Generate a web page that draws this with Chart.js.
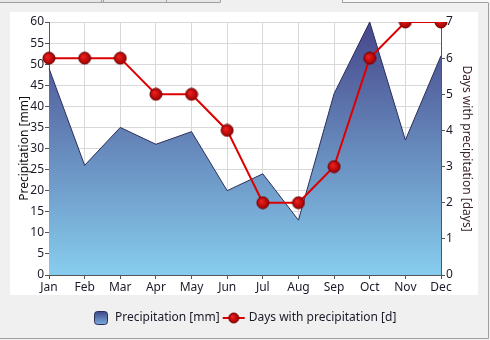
<!DOCTYPE html>
<html>
<head>
<meta charset="utf-8">
<script src="https://cdn.jsdelivr.net/npm/chart.js@4/dist/chart.umd.min.js"></script>
<style>
  html, body { margin: 0; padding: 0; background: #f0f0f0; }
  #wrap { position: relative; width: 490px; height: 340px; }
</style>
</head>
<body>
<div id="wrap"><canvas id="chart" width="490" height="340"></canvas></div>
<script>
// data
const months = ['Jan', 'Feb', 'Mar', 'Apr', 'May', 'Jun', 'Jul', 'Aug', 'Sep', 'Oct', 'Nov', 'Dec'];
const precipitation = [49, 26, 35, 31, 34, 20, 24, 13, 43, 60, 32, 52];
const rainDays = [6, 6, 6, 5, 5, 4, 2, 2, 3, 6, 7, 7];
const seriesNames = ['Precipitation [mm]', 'Days with precipitation [d]'];

const FONT = "'Noto Sans', 'Open Sans', sans-serif";
const TEXT = '#1a1a28';

// shaded red marker used for the points
function makeDot(r) {
  const c = document.createElement('canvas');
  c.width = r * 2 + 2; c.height = r * 2 + 2;
  const g = c.getContext('2d');
  const cx = r + 1;
  const grad = g.createRadialGradient(cx - r * 0.3, cx - r * 0.3, 0.5, cx, cx, r);
  grad.addColorStop(0, '#f02020');
  grad.addColorStop(1, '#a00000');
  g.beginPath();
  g.arc(cx, cx, r, 0, Math.PI * 2);
  g.fillStyle = grad;
  g.fill();
  g.lineWidth = 1;
  g.strokeStyle = '#700000';
  g.stroke();
  return c;
}

const dot = makeDot(6);

const panel = {
  id: 'panel',
  beforeDraw(chart) {
    const ctx = chart.ctx;
    ctx.save();
    ctx.fillStyle = '#f0f0f0';
    ctx.fillRect(0, 0, 490, 340);
    // tab strip at the top
    ctx.fillStyle = '#e6e6e6';
    ctx.fillRect(0, 0, 220, 2);
    ctx.fillStyle = '#f8f8f8';
    ctx.fillRect(342, 0, 148, 2);
    ctx.strokeStyle = '#a0a0a0';
    ctx.lineWidth = 1;
    ctx.beginPath();
    ctx.moveTo(0, 2.5); ctx.lineTo(220, 2.5);
    ctx.moveTo(342, 2.5); ctx.lineTo(488, 2.5);
    [101.5, 103.5, 166.5, 220.5, 342.5].forEach(x => { ctx.moveTo(x, 0); ctx.lineTo(x, 2.5); });
    ctx.moveTo(488.5, 2.5); ctx.lineTo(488.5, 338.5);
    ctx.lineTo(0, 338.5);
    ctx.stroke();
    // white plot panel
    ctx.fillStyle = '#ffffff';
    ctx.fillRect(10, 12, 468, 283);
    ctx.restore();
  },
  afterDraw(chart) {
    // legend under the panel
    const ctx = chart.ctx;
    ctx.save();
    ctx.font = '12px ' + FONT;
    ctx.textBaseline = 'middle';
    const w1 = ctx.measureText(seriesNames[0]).width;
    const w2 = ctx.measureText(seriesNames[1]).width;
    const total = 13 + 8 + w1 + 3 + 22 + 4 + w2;
    let x = Math.round(245 - total / 2);
    const y = 318;
    const grad = ctx.createLinearGradient(0, y - 6, 0, y + 7);
    grad.addColorStop(0, '#3f4a8c');
    grad.addColorStop(1, '#7fb0e0');
    ctx.beginPath();
    ctx.roundRect(x + 0.5, y - 6.5, 13, 13, 3);
    ctx.fillStyle = grad;
    ctx.fill();
    ctx.strokeStyle = '#2a2f5a';
    ctx.lineWidth = 1;
    ctx.stroke();
    x += 13 + 8;
    ctx.fillStyle = TEXT;
    ctx.fillText(seriesNames[0], x, y);
    x += w1 + 3;
    ctx.strokeStyle = '#dd0000';
    ctx.lineWidth = 2;
    ctx.beginPath();
    ctx.moveTo(x, y); ctx.lineTo(x + 22, y);
    ctx.stroke();
    ctx.drawImage(makeDot(5), x + 5, y - 6);
    x += 22 + 4;
    ctx.fillStyle = TEXT;
    ctx.fillText(seriesNames[1], x, y);
    ctx.restore();
  }
};

new Chart(document.getElementById('chart'), {
  data: {
    labels: months,
    datasets: [
      {
        type: 'line',
        label: seriesNames[1],
        data: rainDays,
        yAxisID: 'y1',
        order: 0,
        borderColor: '#dd0000',
        borderWidth: 2,
        pointStyle: dot,
        pointRadius: 6,
        tension: 0
      },
      {
        type: 'line',
        label: seriesNames[0],
        data: precipitation,
        yAxisID: 'y',
        order: 1,
        fill: 'origin',
        borderColor: '#2a2f5a',
        borderWidth: 1,
        pointRadius: 0,
        tension: 0,
        backgroundColor(context) {
          const area = context.chart.chartArea;
          if (!area) return '#6a88bd';
          const g = context.chart.ctx.createLinearGradient(0, area.top, 0, area.bottom);
          g.addColorStop(0, '#46468a');
          g.addColorStop(1, '#87cdee');
          return g;
        }
      }
    ]
  },
  options: {
    responsive: false,
    animation: false,
    layout: { padding: { left: 10, right: 12, top: 22, bottom: 45 } },
    plugins: {
      tooltip: { enabled: false },
      legend: { display: false }
    },
    scales: {
      x: {
        type: 'category',
        offset: false,
        afterFit(s) { s.height = 20; },
        grid: { color: '#d8d8d8', tickColor: '#555', tickLength: 4 },
        border: { color: '#555' },
        ticks: { color: TEXT, padding: 1, maxRotation: 0, autoSkip: false, font: { family: FONT, size: 12 } }
      },
      y: {
        position: 'left',
        min: 0,
        max: 60,
        afterFit(s) { s.width = 39; },
        grid: { color: '#d8d8d8', tickColor: '#555', tickLength: 4 },
        border: { color: '#555' },
        ticks: { stepSize: 5, color: TEXT, padding: 1, font: { family: FONT, size: 12 } },
        title: { display: true, text: 'Precipitation [mm]', color: '#111', padding: { top: 7, bottom: 0 }, font: { family: FONT, size: 12 } }
      },
      y1: {
        position: 'right',
        min: 0,
        max: 7,
        afterFit(s) { s.width = 37; },
        grid: { drawOnChartArea: false, tickColor: '#555', tickLength: 4 },
        border: { color: '#555' },
        ticks: { stepSize: 1, color: TEXT, padding: 1, font: { family: FONT, size: 12 } },
        title: { display: true, text: 'Days with precipitation [days]', color: '#3a2430', padding: { top: 4, bottom: 0 }, font: { family: FONT, size: 12 } }
      }
    }
  },
  plugins: [panel]
});
</script>
</body>
</html>
